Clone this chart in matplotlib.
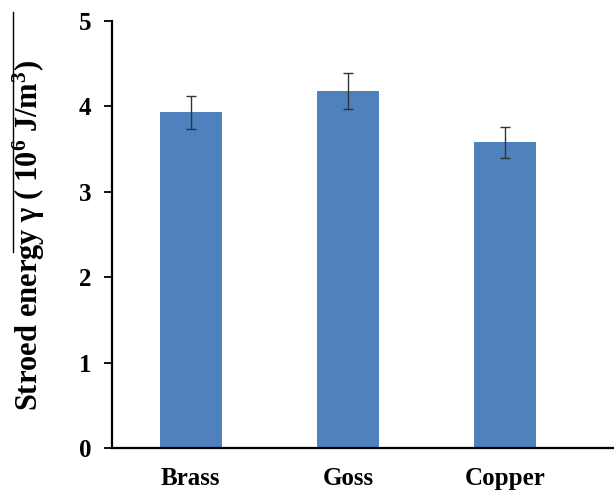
import matplotlib
matplotlib.use("Agg")
import matplotlib.pyplot as plt
from matplotlib.lines import Line2D

categories = ["Brass", "Goss", "Copper"]
values = [3.93, 4.18, 3.58]
errors = [0.195, 0.21, 0.18]
yticks = [0, 1, 2, 3, 4, 5]

plt.rcParams['font.family'] = ['Liberation Serif', 'DejaVu Serif']
plt.rcParams['mathtext.fontset'] = 'custom'
plt.rcParams['mathtext.rm'] = 'Liberation Serif:bold'
plt.rcParams['mathtext.bf'] = 'Liberation Serif:bold'
plt.rcParams['mathtext.it'] = 'Liberation Serif:bold:italic'

fig = plt.figure(figsize=(6.14, 4.92), dpi=100)
ax = fig.add_axes([0.1824, 0.0894, 0.8176, 0.8679])

x = range(len(categories))
ax.bar(x, values, width=0.395, color="#4F81BD", zorder=2)
ax.errorbar(x, values, yerr=errors, fmt='none', ecolor='#333333',
            elinewidth=1.0, capsize=3.3, capthick=1.0, zorder=3)

ax.set_ylim(0, 5)
ax.set_xlim(-0.5, 2.69)
ax.set_yticks(yticks)
ax.set_yticklabels([str(t) for t in yticks], fontsize=18, fontweight='bold')
ax.set_xticks(list(x))
ax.set_xticklabels(categories, fontsize=18, fontweight='bold')
ax.tick_params(axis='x', length=0, pad=14)
ax.tick_params(axis='y', direction='out', length=6, width=1.3, pad=9)

for s in ['top', 'right']:
    ax.spines[s].set_visible(False)
for s in ['left', 'bottom']:
    ax.spines[s].set_linewidth(1.6)
    ax.spines[s].set_color('black')

fig.text(0.047, 0.522, r"Stroed energy γ ( 10$^{\mathbf{6}}$ J/m$^{\mathbf{3}}$)",
         rotation=90, ha='center', va='center', fontsize=22, fontweight='bold')

fig.add_artist(Line2D([0.021, 0.021], [0.976, 0.488], transform=fig.transFigure,
                      color='black', linewidth=1.0))

fig.savefig("out.png", dpi=100)
